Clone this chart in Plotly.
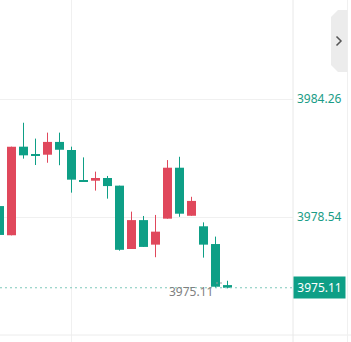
import plotly.graph_objects as go

# ---- data (Chinese convention: red = up, green = down) ----
idx = list(range(20))
open_ = [3979.07, 3977.65, 3981.95, 3981.55, 3981.56, 3982.18, 3981.79, 3980.30, 3980.30, 3980.43,
         3980.06, 3976.99, 3978.39, 3977.20, 3978.46, 3980.93, 3978.60, 3978.09, 3977.23, 3975.24]
high  = [3979.07, 3981.95, 3983.11, 3982.34, 3982.63, 3982.63, 3981.95, 3981.43, 3980.74, 3980.53,
         3980.06, 3978.80, 3978.59, 3978.64, 3981.30, 3981.46, 3979.52, 3978.28, 3977.59, 3975.45]
low   = [3977.67, 3977.65, 3981.37, 3981.06, 3981.17, 3981.05, 3979.72, 3980.25, 3979.82, 3979.43,
         3976.91, 3976.99, 3977.09, 3976.59, 3978.46, 3978.55, 3978.60, 3976.57, 3975.11, 3975.08]
close = [3977.67, 3981.95, 3981.53, 3981.50, 3982.18, 3981.80, 3980.35, 3980.25, 3980.43, 3980.04,
         3976.95, 3978.39, 3977.09, 3977.83, 3980.93, 3978.70, 3979.32, 3977.20, 3975.16, 3975.11]
y_ticks = [3978.54, 3984.26]
y_range = [3972.82, 3989.06]
last_price = 3975.11
low_mark = 3975.11
time_tick_idx = 6
time_tick_label = "18:00"

UP = "#e0485c"
DOWN = "#0e9f86"
FONT = "Noto Sans"

W, H = 351, 342
PL, PR, PT, PB = 0, 293, 0, 335  # plot area in px


def pxx(p):
    return (p - PL) / (PR - PL)


def pxy(p):
    return (PB - p) / (PB - PT)


fig = go.Figure()

# wicks
for color, cond in ((UP, lambda o, c: c > o), (DOWN, lambda o, c: c <= o)):
    xs, ys = [], []
    for i, o, h, l, c in zip(idx, open_, high, low, close):
        if cond(o, c):
            xs += [i, i, None]
            ys += [l, h, None]
    fig.add_trace(go.Scatter(x=xs, y=ys, mode="lines", line=dict(color=color, width=1),
                             hoverinfo="skip", showlegend=False))

# bodies
base = [min(o, c) for o, c in zip(open_, close)]
hgt = [max(abs(c - o), 0.05) for o, c in zip(open_, close)]
cols = [UP if c > o else DOWN for o, c in zip(open_, close)]
fig.add_trace(go.Bar(x=idx, y=hgt, base=base, width=0.75, marker=dict(color=cols, line=dict(width=0)),
                     showlegend=False, hoverinfo="skip"))

shapes = []
# vertical time grid line
shapes.append(dict(type="line", xref="x", yref="paper", x0=time_tick_idx, x1=time_tick_idx,
                   y0=pxy(342), y1=1, line=dict(color="#f0f0f0", width=1), layer="below"))
# bottom line
shapes.append(dict(type="line", xref="paper", yref="paper", x0=0, x1=pxx(351), y0=0, y1=0,
                   line=dict(color="#ececec", width=1)))
# axis border
shapes.append(dict(type="line", xref="paper", yref="paper", x0=1, x1=1, y0=pxy(342), y1=1,
                   line=dict(color="#e8e8e8", width=1)))
# right edge line
shapes.append(dict(type="line", xref="paper", yref="paper", x0=pxx(347.5), x1=pxx(347.5), y0=pxy(342), y1=1,
                   line=dict(color="#f0f0f0", width=1)))
# last price dotted line
shapes.append(dict(type="line", xref="paper", yref="y", x0=0, x1=1, y0=last_price, y1=last_price,
                   line=dict(color="#7cc8ba", width=1, dash="2px,3px")))
# small marker dash after low label
shapes.append(dict(type="line", xref="paper", yref="paper", x0=pxx(216), x1=pxx(223), y0=pxy(283), y1=pxy(283),
                   line=dict(color="#9a9a9a", width=1, dash="2px,2px")))
# collapse button
bp = [(331, 17), (338, 10), (347.5, 10), (347.5, 72), (338, 72), (331, 65)]
path = "M " + " L ".join(f"{pxx(a):.5f},{pxy(b):.5f}" for a, b in bp) + " Z"
shapes.append(dict(type="path", xref="paper", yref="paper", path=path,
                   fillcolor="#ececec", line=dict(width=0)))
cp = [(336.5, 36.5), (341, 41), (336.5, 45.5)]
cpath = "M " + " L ".join(f"{pxx(a):.5f},{pxy(b):.5f}" for a, b in cp)
shapes.append(dict(type="path", xref="paper", yref="paper", path=cpath,
                   line=dict(color="#555555", width=1.5)))

annotations = [
    dict(xref="paper", yref="y", x=1, y=last_price, xanchor="left", yanchor="middle",
         text="3975.11", showarrow=False, bgcolor=DOWN, borderpad=2, width=47,
         font=dict(family=FONT, size=12, color="white")),
    dict(xref="x", yref="y", x=(215 + 0.5) / 12, y=3978.54 - (291 - 217) / 20.63,
         xanchor="right", yanchor="middle", text=f"{low_mark:.2f}", showarrow=False,
         font=dict(family=FONT, size=12, color="#808080")),
    dict(xref="x", yref="paper", x=time_tick_idx, y=pxy(335), xanchor="center", yanchor="top",
         text=time_tick_label, showarrow=False, yshift=-1,
         font=dict(family=FONT, size=12, color="#666666")),
]

fig.update_layout(
    width=W, height=H,
    margin=dict(l=PL, r=W - PR, t=PT, b=H - PB),
    paper_bgcolor="white", plot_bgcolor="white",
    showlegend=False,
    xaxis=dict(range=[0.5 / 12, 293.5 / 12], showgrid=False, zeroline=False, showticklabels=False,
               showline=False, fixedrange=True),
    yaxis=dict(range=y_range, side="right", tickvals=y_ticks, ticktext=[f"{v:.2f}" for v in y_ticks],
               tickfont=dict(family=FONT, size=12, color="#1a9c86"), showgrid=True, gridcolor="#f0f0f0",
               zeroline=False, showline=False, ticks="", ticklabelstandoff=3),
    shapes=shapes,
    annotations=annotations,
)

fig.write_html("out.html", config={"displayModeBar": False})
